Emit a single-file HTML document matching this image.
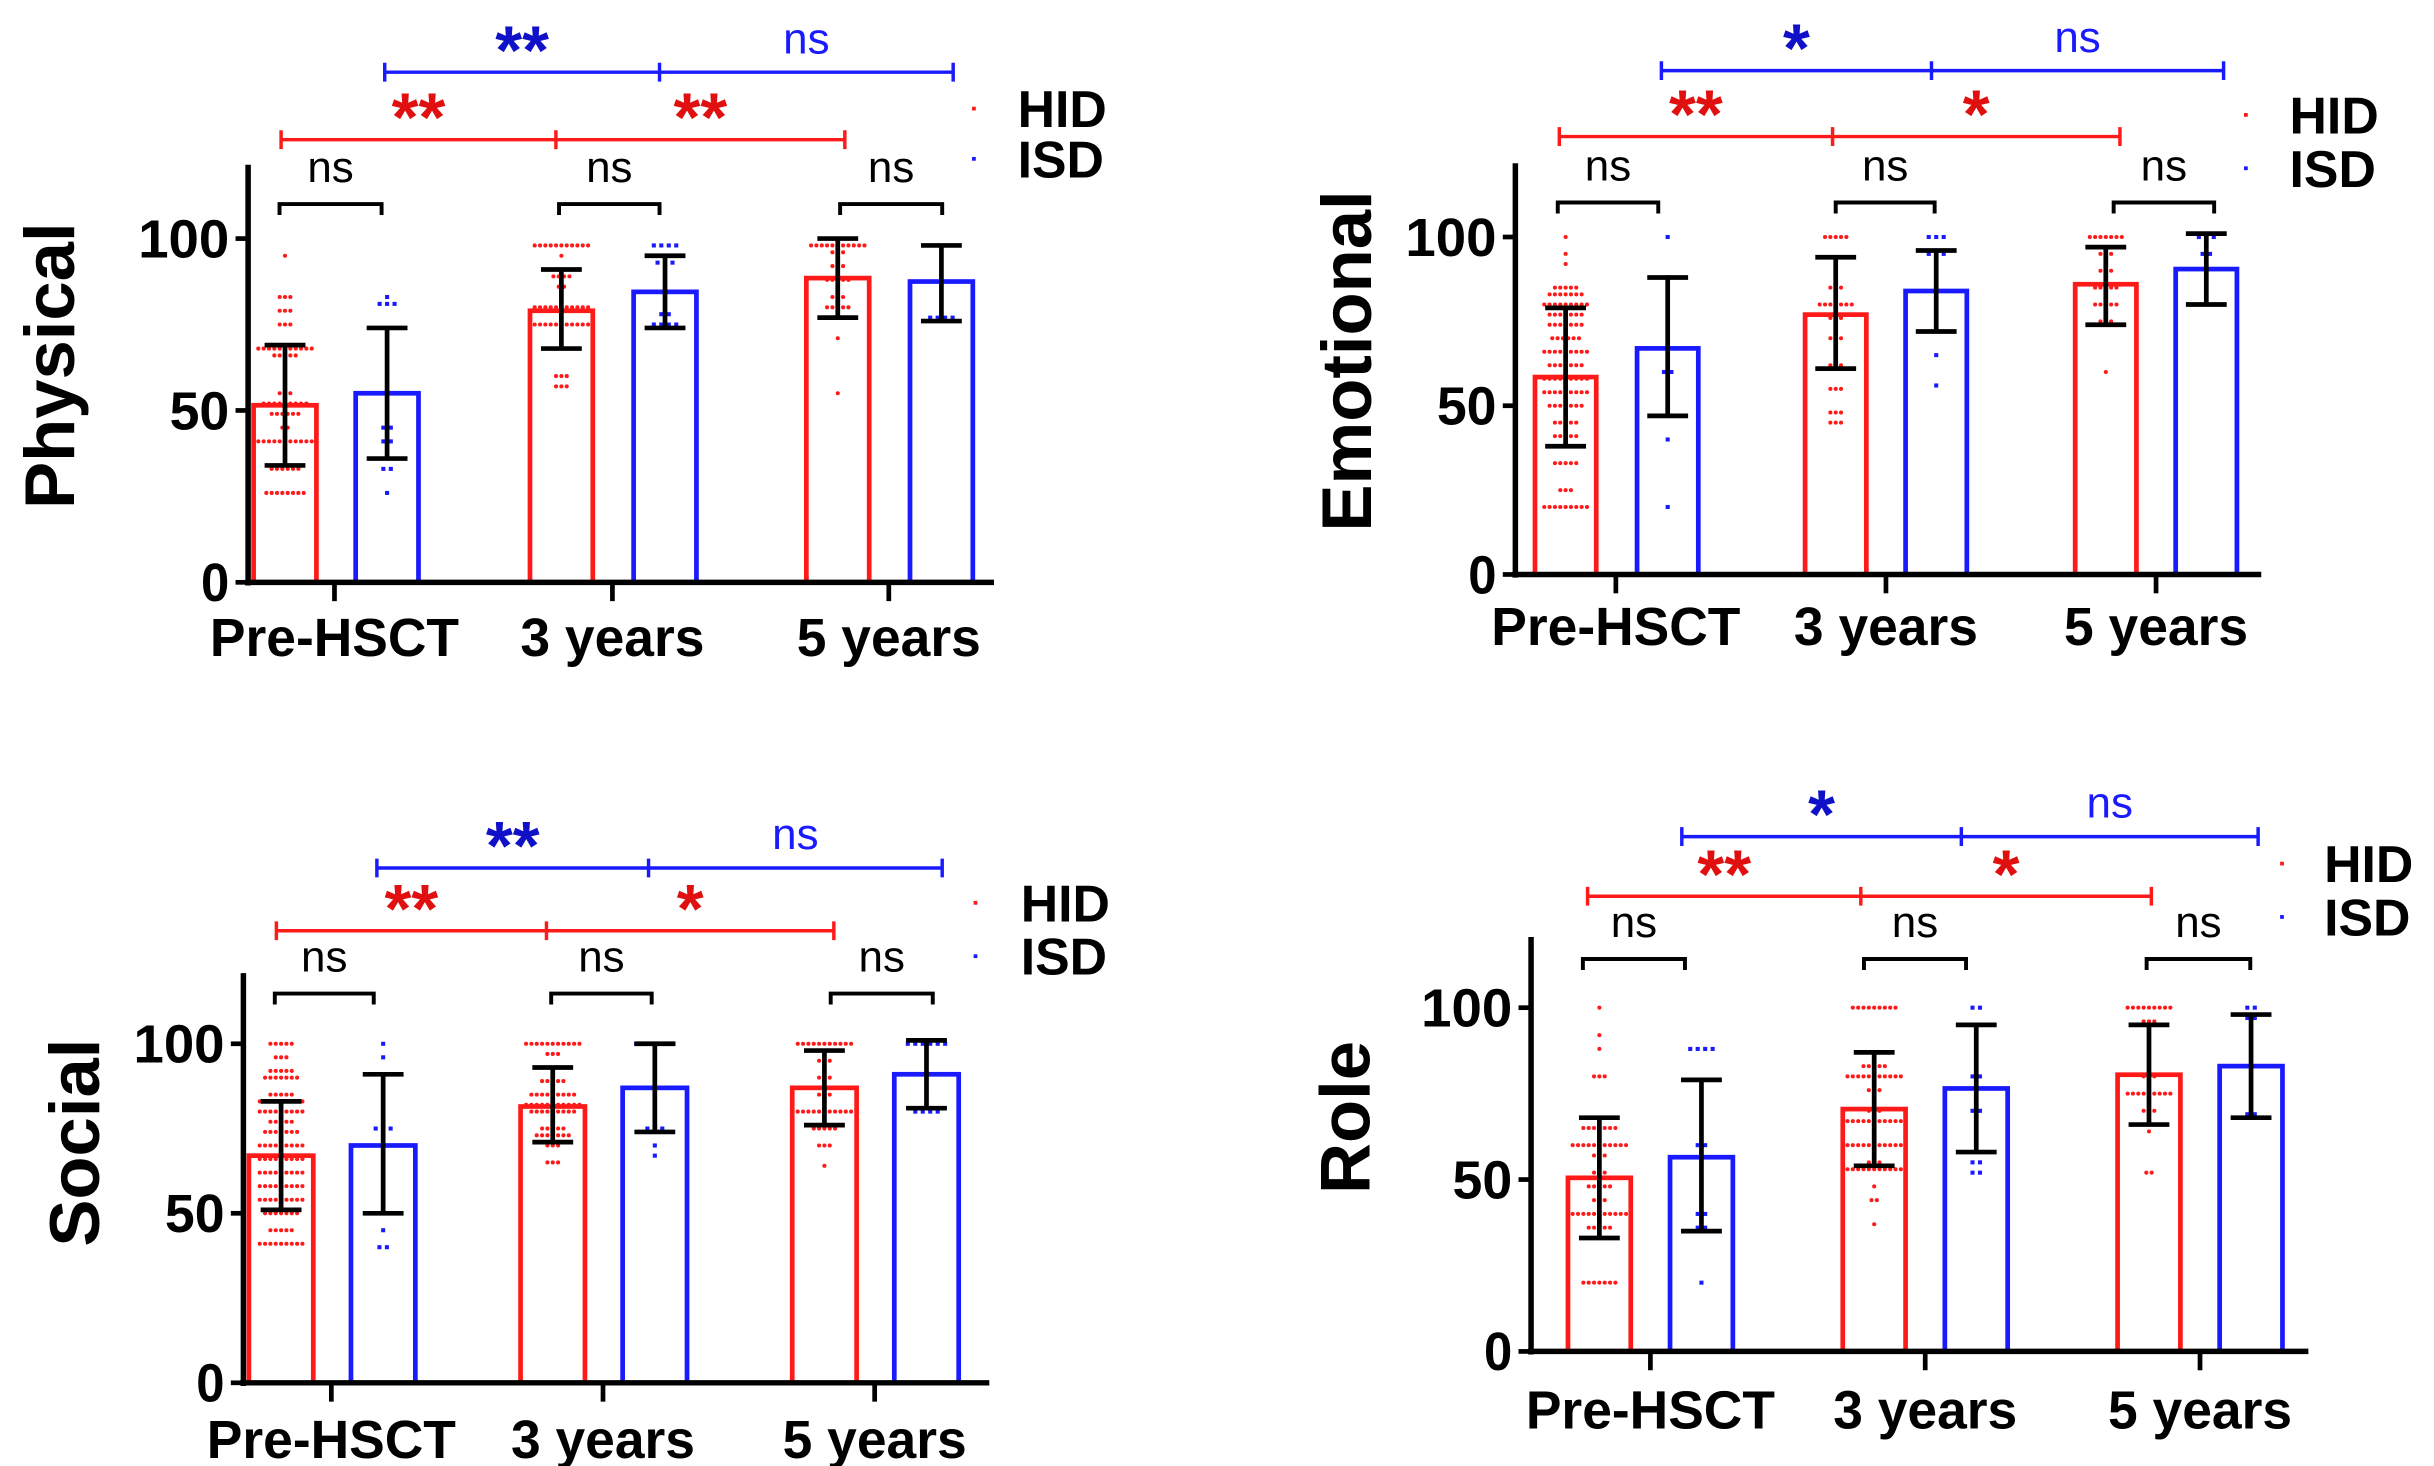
<!DOCTYPE html>
<html><head><meta charset="utf-8"><style>
html,body{margin:0;padding:0;background:#fff;width:2434px;height:1466px;overflow:hidden}
svg{display:block}
text{font-family:"Liberation Sans",Arial,sans-serif}
</style></head><body>
<svg id="chart" width="2434" height="1466" viewBox="0 0 1550 934" preserveAspectRatio="none" xmlns="http://www.w3.org/2000/svg"></svg>
<script>
const groups = ["Pre-HSCT","3 years","5 years"];
const yTicks = [0,50,100];
const panelNames = ["Physical","Emotional","Social","Role"];
const hidMeans = [[51.5,79,88.5],[58.5,77,86],[67,81.5,87],[50.5,70.5,80.5]];
const isdMeans = [[55,84.5,87.5],[67,84,90.5],[70,87,91],[56.5,76.5,83]];
const hidLow = [[34,68,77],[38,61,74],[51,71,76],[33,54,66]];
const hidHigh = [[69,91,100],[79,94,97],[83,93,98],[68,87,95]];
const isdLow = [[36,74,76],[47,72,80],[50,74,81],[35,58,68]];
const isdHigh = [[74,95,98],[88,96,101],[91,100,101],[79,95,98]];
// dot values "value:count"
const hidDots = [
 ["95:1","83:3","79:3","75:3","68:11","66:5","55:3","52:9","49:6","45:2","41:11","33:6","26:8"],
 ["100:1","95:1","92:1","85:5","83:7","80:9","77:7","74:7","70:6","66:9","62:7","58:9","54:9","50:7","45:5","41:5","38:3","33:5","25:3","20:9"],
 ["100:5","96:3","92:5","90:7","85:5","83:9","80:9","77:5","74:7","70:9","66:9","62:9","58:9","54:9","50:7","45:5","41:9"],
 ["100:1","92:1","88:1","80:3","65:7","60:11","57:3","52:3","48:5","44:3","40:11","36:5","20:7"]];
const hidDots2 = [
 ["98:11","95:1","89:4","86:2","80:11","79:11","75:11","68:3","60:3","57:3"],
 ["100:5","85:3","80:7","76:3","70:3","62:3","55:3","48:3","45:3"],
 ["100:11","97:3","93:5","89:5","85:9","82:11","80:9","75:5","73:7","70:3","65:3"],
 ["100:9","87:3","83:5","80:11","76:3","70:3","67:11","60:11","55:3","53:11","48:1","44:2","37:1"]];
const hidDots3 = [
 ["100:7","98:11","96:3","92:3","88:5","83:3","80:5","77:5","71:1","55:1"],
 ["100:7","95:3","90:3","85:5","80:5","75:3","60:1"],
 ["100:11","95:3","90:3","85:3","80:11","75:5","70:3","64:1"],
 ["100:9","96:3","80:3","75:9","70:3","66:3","64:1","52:2"]];
const isdDots = [
 [["83:1","81:3","68:1","62:1","55:1","45:2","41:2","33:2","26:1"],["98:4","93:3","85:1","78:2","75:4"],["98:4","95:1","90:1","80:1","77:4"]],
 [["100:1","88:3","80:1","70:1","60:2","55:1","48:1","40:1","20:1"],["100:3","95:3","88:1","80:1","72:1","65:1","56:1"],["100:3","95:2","90:1","85:1","80:3"]],
 [["100:1","96:1","90:1","75:3","70:1","60:1","50:1","45:1","40:2"],["100:6","95:1","90:1","85:1","75:3","70:1","67:1"],["100:6","96:1","91:1","85:1","80:4"]],
 [["88:4","65:1","60:2","52:1","45:1","40:2","36:2","20:1"],["100:2","95:3","83:1","80:2","70:2","58:1","55:2","52:2"],["100:2","97:2","85:1","80:1","73:1","69:2"]]];
const topSig = [["**","ns"],["*","ns"],["**","ns"],["*","ns"]];
const midSig = [["**","**"],["**","*"],["**","*"],["**","*"]];

// layout (not data)
const L = [
 {ax:158,x1:633,y0:371,y100:152,top:105,bx:[[160,225],[336,402],[512,578]],bw:43,tk:[213,390,566],lab:405,
  bk:130,bkx:[[178,243],[356,420],[535,600]],rY:89,rx:[179,354,538],bY:46,bx2:[245,420,607],leg:[620,648,69,101],yl:[32,233]},
 {ax:965,x1:1440,y0:366,y100:151,top:104,bx:[[976,1041],[1148,1212],[1320,1384]],bw:42,tk:[1029,1201,1373],lab:398,
  bk:129,bkx:[[992,1056],[1169,1232],[1346,1410]],rY:87,rx:[993,1167,1350],bY:45,bx2:[1058,1230,1416],leg:[1430,1458,73,107],yl:[858,230]},
 {ax:155,x1:630,y0:881,y100:665,top:620,bx:[[157,222],[330,395],[503,568]],bw:44,tk:[211,384,557],lab:916,
  bk:633,bkx:[[175,238],[351,415],[529,594]],rY:593,rx:[176,348,531],bY:553,bx2:[240,413,600],leg:[621,650,575,609],yl:[48,728]},
 {ax:975,x1:1470,y0:861,y100:642,top:597,bx:[[997,1062],[1172,1237],[1347,1412]],bw:43,tk:[1051,1226,1401],lab:897,
  bk:611,bkx:[[1008,1073],[1187,1252],[1367,1433]],rY:571,rx:[1011,1185,1370],bY:533,bx2:[1071,1249,1438],leg:[1453,1480,550,584],yl:[857,712]}];

const svg=document.getElementById('chart');
const NS='http://www.w3.org/2000/svg';
function mk(tag,attrs,parent){const e=document.createElementNS(NS,tag);for(const k in attrs)e.setAttribute(k,attrs[k]);(parent||svg).appendChild(e);return e;}
const RED='#ff1a1a',BLUE='#1a1aff',DRED='#e01010',DBLUE='#1010c8';

panelNames.forEach((pn,p)=>{
  const c=L[p];
  const y=v=>c.y0-(v/100)*(c.y0-c.y100);
  const g=mk('g',{});
  
  
  const ya=mk('line',{x1:c.ax,y1:c.top,x2:c.ax,y2:c.y0+2,stroke:'#000','stroke-width':3.5},g);
  
  
  yTicks.forEach(t=>{
    mk('line',{x1:c.ax-8,y1:y(t),x2:c.ax,y2:y(t),stroke:'#000','stroke-width':3},g);
    const tl=mk('text',{x:c.ax-12,y:y(t)+12,'text-anchor':'end','font-size':34,'font-weight':'bold',textLength:t===100?58:(t===50?38:18),lengthAdjust:'spacingAndGlyphs'},g);
    tl.textContent=t;
    
    
  });
  const yt=mk('text',{x:0,y:0,'text-anchor':'middle','font-size':45,'font-weight':'bold',transform:`translate(${c.yl[0]+15},${c.yl[1]}) rotate(-90)`},g);
  yt.textContent=pn;
  
  
  groups.forEach((gn,i)=>{
    [[hidMeans,RED,hidLow,hidHigh,0],[isdMeans,BLUE,isdLow,isdHigh,1]].forEach(([m,col,lo,hi,s])=>{
      const bx=c.bx[i][s],v=m[p][i];
      const r=mk('rect',{x:bx+1.5,y:y(v),width:c.bw-3,height:c.y0-y(v),fill:'none',stroke:col,'stroke-width':3},g);
      
      
      const cx=bx+c.bw/2;
      const dl = s? isdDots[p][i] : [hidDots,hidDots2,hidDots3][i][p];
      dl.forEach(d=>{const [val,cnt]=d.split(':').map(Number);
        for(let k=0;k<cnt;k++){const dx=(k-(cnt-1)/2)*3.4;
          const dot=mk(s?'rect':'circle',s?{x:cx+dx*1.4-1.3,y:y(val)-1.3,width:2.6,height:2.6,fill:col}:{cx:cx+dx,cy:y(val),r:1.3,fill:col},g);
          
          }
      });
      const eb=mk('g',{stroke:'#000','stroke-width':3},g);
      
      
      mk('line',{x1:cx,y1:y(hi[p][i]),x2:cx,y2:y(lo[p][i])},eb);
      mk('line',{x1:cx-13,y1:y(hi[p][i]),x2:cx+13,y2:y(hi[p][i])},eb);
      mk('line',{x1:cx-13,y1:y(lo[p][i]),x2:cx+13,y2:y(lo[p][i])},eb);
    });
    mk('line',{x1:c.tk[i],y1:c.y0,x2:c.tk[i],y2:c.y0+12,stroke:'#000','stroke-width':3},g);
    const xl=mk('text',{x:c.tk[i],y:c.lab+13,'text-anchor':'middle','font-size':34,'font-weight':'bold'},g);
    xl.textContent=gn;
    
    
    const [a,b]=c.bkx[i];
    const bk=mk('path',{d:`M${a},${c.bk+7}V${c.bk}H${b}V${c.bk+7}`,fill:'none',stroke:'#000','stroke-width':2.5},g);
    
    
    const ns=mk('text',{x:(a+b)/2,y:c.bk-14,'text-anchor':'middle','font-size':28},g);
    ns.textContent='ns';
    
    
  });
  const xa=mk('line',{x1:c.ax-2,y1:c.y0,x2:c.x1,y2:c.y0,stroke:'#000','stroke-width':3.5},g);
  
  
  [[c.rY,c.rx,RED,DRED,midSig[p],'hid'],[c.bY,c.bx2,BLUE,DBLUE,topSig[p],'isd']].forEach(([yy,xs,col,tc,sig,nm])=>{
    const br=mk('path',{d:`M${xs[0]},${yy-6}V${yy+6}M${xs[0]},${yy}H${xs[2]}M${xs[1]},${yy-6}V${yy+6}M${xs[2]},${yy-6}V${yy+6}`,fill:'none',stroke:col,'stroke-width':2.2},g);
    
    
    [0,1].forEach(j=>{
      const isNs=sig[j]==='ns';
      const t=mk('text',{x:(xs[j]+xs[j+1])/2,y:isNs?yy-12:yy+1,'text-anchor':'middle','font-size':isNs?28:44,'font-weight':isNs?'normal':'bold',fill:isNs?col:tc},g);
      t.textContent=sig[j];
      
      
    });
  });
  [['HID',RED,c.leg[2]],['ISD',BLUE,c.leg[3]]].forEach(([n,col,ly])=>{
    const lg=mk('g',{},g);
    
    
    mk('rect',{x:c.leg[0]-1,y:ly-1,width:2.4,height:2.4,fill:col},lg);
    const t=mk('text',{x:c.leg[1],y:ly+12,'font-size':33,'font-weight':'bold'},lg);
    t.textContent=n;
  });
});
</script>
</body></html>
